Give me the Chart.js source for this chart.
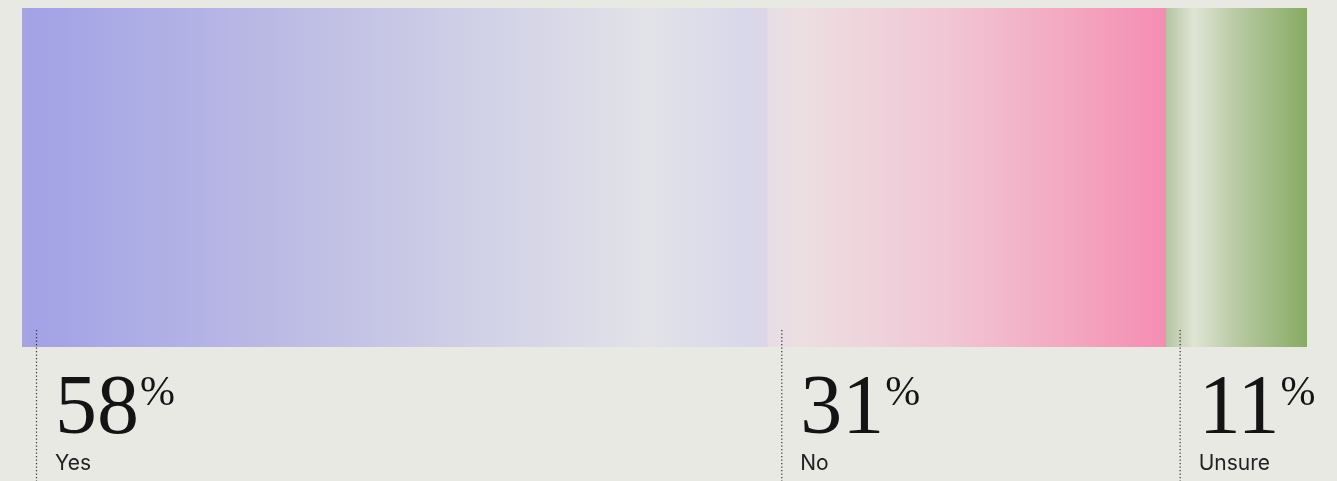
<!DOCTYPE html>
<html>
<head>
<meta charset="utf-8">
<script src="https://cdn.jsdelivr.net/npm/chart.js@4/dist/chart.umd.min.js"></script>
<style>
  html, body { margin: 0; padding: 0; background: #e9e9e4; }
  #wrap { width: 1337px; height: 481px; }
</style>
</head>
<body>
<div id="wrap"><canvas id="c" width="1337" height="481"></canvas></div>
<script>
// Survey answers, share of respondents in percent
const answers = ['Yes', 'No', 'Unsure'];
const shares = [58, 31, 11];
const category = ['Response'];

// Gradient stops for each segment, left to right
const gradientStops = [
  [[0, '#a6a6dc'], [0.012, '#a2a2e6'], [0.35, '#bcbbe4'], [0.62, '#d1d1e7'], [0.84, '#e2e2e8'], [0.97, '#d8d8ea'], [1, '#ddd6e6']],
  [[0, '#e6dde6'], [0.08, '#ecdfe1'], [0.45, '#f1c6d5'], [0.8, '#f3a3be'], [1, '#f58db2']],
  [[0, '#b4c4a2'], [0.2, '#dfe4d4'], [0.5, '#b8caa3'], [1, '#87ab64']]
];

function segmentGradient(ctx, i) {
  const chart = ctx.chart;
  const area = chart.chartArea;
  if (!area) return gradientStops[i][0][1];
  const x = chart.scales.x;
  const start = shares.slice(0, i).reduce((a, b) => a + b, 0);
  const x0 = x.getPixelForValue(start);
  const x1 = x.getPixelForValue(start + shares[i]);
  const g = chart.ctx.createLinearGradient(x0, 0, x1, 0);
  gradientStops[i].forEach(([p, c]) => g.addColorStop(p, c));
  return g;
}

// Big percentage figure, category name and dotted guide under each segment
const segmentLabels = {
  id: 'segmentLabels',
  afterDatasetsDraw(chart) {
    const ctx = chart.ctx;
    const bottom = chart.chartArea.bottom;
    chart.data.datasets.forEach((ds, i) => {
      const el = chart.getDatasetMeta(i).data[0];
      const left = Math.min(el.base, el.x);
      ctx.save();
      // dotted guide
      ctx.strokeStyle = '#333333';
      ctx.lineWidth = 1.2;
      ctx.setLineDash([1.3, 2.2]);
      ctx.beginPath();
      ctx.moveTo(left + 14.5, bottom - 17);
      ctx.lineTo(left + 14.5, chart.height);
      ctx.stroke();
      ctx.setLineDash([]);
      // value
      const tx = left + 33;
      ctx.fillStyle = '#141414';
      ctx.textBaseline = 'alphabetic';
      ctx.textAlign = 'left';
      ctx.font = '84px "Liberation Serif", serif';
      const num = String(ds.data[0]);
      ctx.fillText(num, tx, bottom + 86);
      const w = ctx.measureText(num).width;
      ctx.font = '42px "Liberation Serif", serif';
      ctx.fillText('%', tx + w + 1, bottom + 58);
      // category
      ctx.fillStyle = '#222222';
      ctx.font = '21px Inter, sans-serif';
      ctx.fillText(ds.label, tx, bottom + 123);
      ctx.restore();
    });
  }
};

new Chart(document.getElementById('c'), {
  type: 'bar',
  data: {
    labels: category,
    datasets: answers.map((name, i) => ({
      label: name,
      data: [shares[i]],
      backgroundColor: (ctx) => segmentGradient(ctx, i),
      borderWidth: 0,
      barPercentage: 1,
      categoryPercentage: 1
    }))
  },
  options: {
    indexAxis: 'y',
    responsive: false,
    animation: false,
    layout: { padding: { left: 22, right: 30, top: 8, bottom: 134 } },
    scales: {
      x: { stacked: true, min: 0, max: 100, display: false },
      y: { stacked: true, display: false }
    },
    plugins: { legend: { display: false }, tooltip: { enabled: false } }
  },
  plugins: [segmentLabels]
});
</script>
</body>
</html>
